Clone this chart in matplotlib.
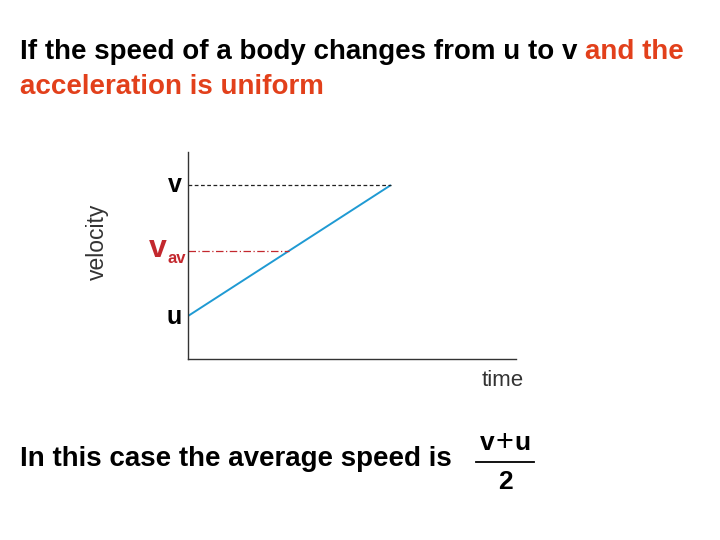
import matplotlib.pyplot as plt
from matplotlib.lines import Line2D

plt.rcParams['font.family'] = ['Liberation Sans', 'DejaVu Sans']

# velocity-time values (arbitrary units)
time = [0, 1]
velocity = [1, 3]
u = velocity[0]
v = velocity[-1]
v_av = (u + v) / 2
t_av = 0.5

title_black = 'If the speed of a body changes from u to v '
title_red1 = 'and the'
title_red2 = 'acceleration is uniform'
bottom_text = 'In this case the average speed is'

red = '#e2401b'
blue = '#1f9ad3'
dark_red = '#c3282e'

fig = plt.figure(figsize=(7.2, 5.4), dpi=100)
ax = fig.add_axes([188 / 720, 1 - 359 / 540, 328 / 720, 207 / 540])

ax.plot(time, velocity, color=blue, lw=1.4, solid_capstyle='butt')
ax.plot([0, time[-1]], [v, v], color='#222222', lw=0.9, ls=(0, (3, 2)))
ax.plot([0, t_av], [v_av, v_av], color=dark_red, lw=0.9, ls=(0, (6, 2, 1, 2)))

ax.set_xlim(0, 1.616)
ax.set_ylim(0.344, 3.504)
for side in ['top', 'right']:
    ax.spines[side].set_visible(False)
for side in ['left', 'bottom']:
    ax.spines[side].set_color('#333333')
    ax.spines[side].set_linewidth(1.0)
ax.set_xticks([])
ax.set_yticks([])

ax.text(-0.03, v, 'v', ha='right', va='center', fontsize=18, fontweight='bold',
        clip_on=False)
ax.text(-0.03, u - 0.01, 'u', ha='right', va='center', fontsize=18, fontweight='bold',
        clip_on=False)
ax.text(-0.105, v_av + 0.03, 'v', ha='right', va='center', fontsize=23, fontweight='bold',
        color=dark_red, clip_on=False)
ax.text(-0.1, v_av - 0.12, 'av', ha='left', va='center', fontsize=12,
        fontweight='bold', color=dark_red, clip_on=False)

fig.text(97 / 720, 1 - 242 / 540, 'velocity', rotation=90, ha='center', va='center',
         fontsize=16.5, color='#333333')
fig.text(503 / 720, 1 - 381 / 540, 'time', ha='center', va='center',
         fontsize=16, color='#333333')

# title
fs = 20
t1 = fig.text(20 / 720, 1 - 52 / 540, title_black, ha='left', va='center',
              fontsize=fs, fontweight='bold', color='black')
fig.canvas.draw()
bb = t1.get_window_extent()
fig.text(bb.x1 / 720, 1 - 52 / 540, title_red1, ha='left', va='center',
         fontsize=fs, fontweight='bold', color=red)
fig.text(20 / 720, 1 - 87 / 540, title_red2, ha='left', va='center',
         fontsize=fs, fontweight='bold', color=red)

fig.text(20 / 720, 1 - 459 / 540, bottom_text, ha='left', va='center',
         fontsize=fs, fontweight='bold', color='black')
# fraction (v + u) / 2
fig.text(487 / 720, 1 - 443 / 540, 'v', ha='center', va='center',
         fontsize=19, fontweight='bold', color='black')
fig.text(504 / 720, 1 - 443 / 540, '+', ha='center', va='center',
         fontsize=22, fontweight='light', color='black')
fig.text(522 / 720, 1 - 443 / 540, 'u', ha='center', va='center',
         fontsize=19, fontweight='bold', color='black')
fig.text(505 / 720, 1 - 482 / 540, '2', ha='center', va='center',
         fontsize=19, fontweight='bold', color='black')
fig.add_artist(Line2D([476 / 720, 534 / 720], [1 - 462 / 540, 1 - 462 / 540],
                      transform=fig.transFigure, color='black', lw=1.3))

fig.savefig('out.png', dpi=100)
